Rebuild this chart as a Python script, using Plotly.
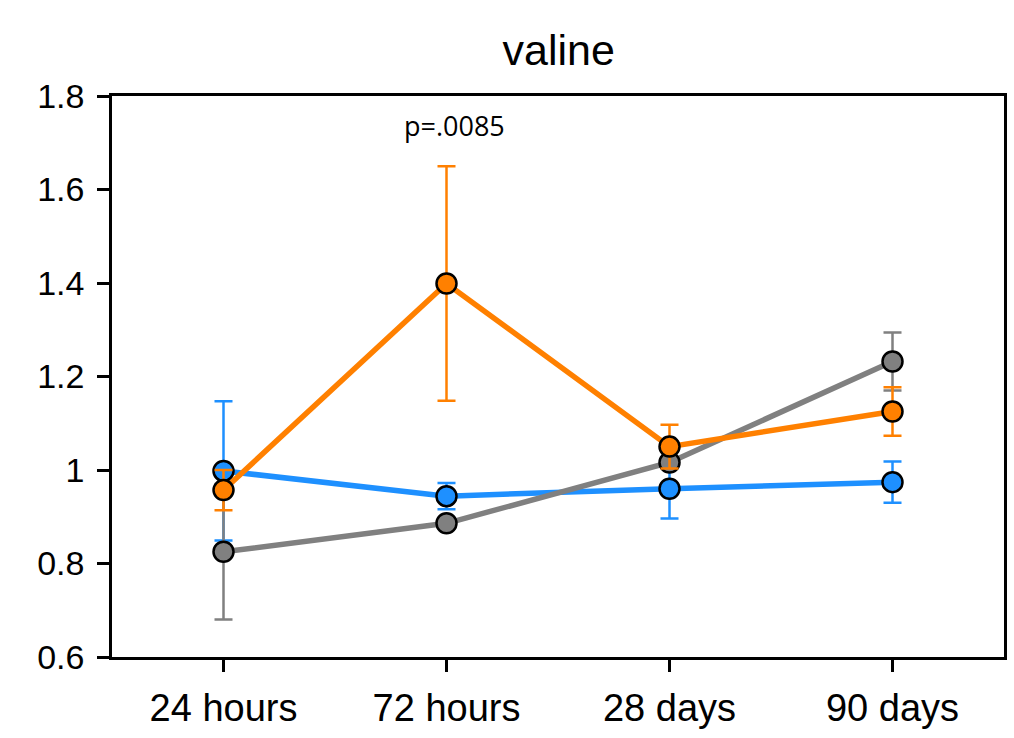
import plotly.graph_objects as go

categories = ["24 hours", "72 hours", "28 days", "90 days"]
blue_vals = [0.998, 0.944, 0.960, 0.974]
blue_err = [0.149, 0.028, 0.064, 0.044]
gray_vals = [0.825, 0.886, 1.016, 1.232]
gray_err = [0.145, 0.010, 0.010, 0.062]
orange_vals = [0.957, 1.399, 1.050, 1.125]
orange_err = [0.043, 0.251, 0.047, 0.052]
tick_vals = [0.6, 0.8, 1.0, 1.2, 1.4, 1.6, 1.8]
tick_text = ["0.6", "0.8", "1", "1.2", "1.4", "1.6", "1.8"]

series = [
    ("blue", blue_vals, blue_err, "#1E90FF"),
    ("gray", gray_vals, gray_err, "#808080"),
    ("orange", orange_vals, orange_err, "#FF8000"),
]

xpos = list(range(len(categories)))

fig = go.Figure()
for name, vals, err, col in series:
    fig.add_trace(go.Scatter(
        x=xpos, y=vals, name=name, mode="lines+markers",
        line=dict(color=col, width=5.5),
        marker=dict(color=col, size=20, line=dict(color="black", width=2.5)),
        error_y=dict(type="data", array=err, visible=True, color=col,
                     thickness=2.5, width=9),
        showlegend=False,
    ))

fig.add_annotation(x=1, y=1.737, xshift=8, text="p=.0085", showarrow=False,
                   font=dict(family="Open Sans", size=27, color="black"))

fig.update_layout(
    width=1014, height=738,
    paper_bgcolor="white", plot_bgcolor="white",
    margin=dict(l=112, r=7, t=96, b=81),
    title=dict(text="valine", x=0.551, xanchor="center", y=0.932, yanchor="middle",
               font=dict(family="Liberation Sans, Arial", size=43, color="black")),
    font=dict(family="Liberation Sans, Arial", size=33, color="black"),
    xaxis=dict(range=[-0.5, 3.5], tickmode="array", tickvals=xpos, ticktext=categories,
               showgrid=False, zeroline=False, showline=True, linecolor="black",
               linewidth=2.5, mirror=True, ticks="outside", ticklen=12, tickwidth=2.5,
               tickcolor="black", tickfont=dict(size=38), ticklabelstandoff=4),
    yaxis=dict(range=[0.6, 1.8], tickmode="array", tickvals=tick_vals, ticktext=tick_text,
               showgrid=False, zeroline=False, showline=True, linecolor="black",
               linewidth=2.5, mirror=True, ticks="outside", ticklen=12, tickwidth=2.5,
               tickcolor="black", tickfont=dict(size=34), ticklabelstandoff=6),
)

fig.write_html("out.html", config={"displayModeBar": False},
               post_script="document.body.style.margin='0';")
